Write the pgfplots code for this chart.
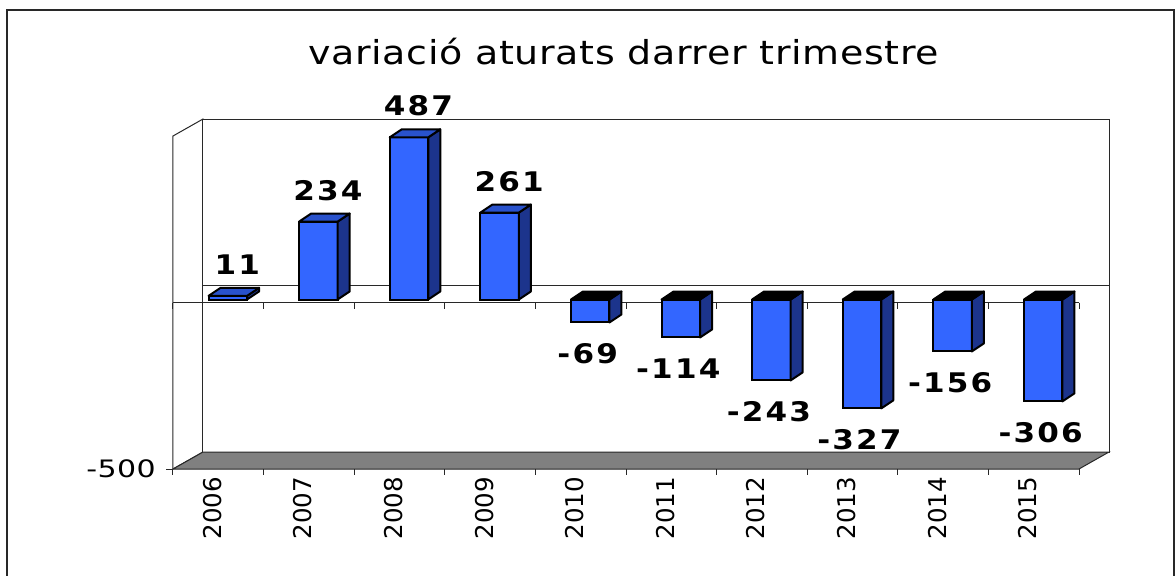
\documentclass[border=0pt]{standalone}
\usepackage{fontspec}
\setmainfont{DejaVu Sans}
\newfontfamily\titlefam[FakeStretch=1.15, LetterSpace=2]{DejaVu Sans}
\newfontfamily\labfam[FakeStretch=1.15, LetterSpace=8]{DejaVu Sans}
\newfontfamily\ticfam{DejaVu Sans}
\newfontfamily\yfam[FakeStretch=1.25, LetterSpace=2]{DejaVu Sans}
\usepackage{pgfplots}
\pgfplotsset{compat=1.18}
\usepackage{pgfplotstable}
\definecolor{frontcol}{RGB}{51,102,255}
\definecolor{sidecol}{RGB}{28,52,140}
\definecolor{topcol}{RGB}{41,82,204}
\definecolor{floorcol}{RGB}{128,128,128}
\definecolor{linecol}{RGB}{40,40,40}
\pgfdeclareplotmark{nothing}{}
\pgfplotstableread{
x y
0 11
1 234
2 487
3 261
4 -69
5 -114
6 -243
7 -327
8 -156
9 -306
}\data
\begin{document}
\begin{tikzpicture}
\useasboundingbox (-173bp,-107bp) rectangle (1003bp,469bp);
\draw[linecol, line width=2bp] (-166bp,459bp) rectangle (1001bp,-115bp);
\node[font={\titlefam\fontsize{33bp}{40bp}\selectfont}, anchor=base] at (450.5bp,404bp) {variació aturats darrer trimestre};
\begin{axis}[
  at={(0,0)}, anchor=south west,
  scale only axis, width=906bp, height=333bp,
  xmin=-0.5, xmax=9.5, ymin=-500, ymax=500,
  axis line style={draw=none},
  major tick length=0pt,
  tick pos=left,
  xtick={0,...,9},
  xticklabels={2006,2007,2008,2009,2010,2011,2012,2013,2014,2015},
  ytick={-500}, yticklabels={-500},
  clip=false,
  /pgf/number format/assume math mode=true,
  xticklabel style={font={\ticfam\fontsize{24.5bp}{28bp}\selectfont}, yshift=-8bp, xshift=-6bp, rotate=90, anchor=east, inner sep=0pt},
  yticklabel style={font={\yfam\fontsize{24bp}{28bp}\selectfont}, xshift=-17bp, anchor=east, inner sep=0pt},
]
% left side wall
\filldraw[fill=white, draw=linecol, line width=1bp] (rel axis cs:0,0) -- (rel axis cs:0,1) -- ([shift={(30bp,17bp)}]rel axis cs:0,1) -- ([shift={(30bp,17bp)}]rel axis cs:0,0) -- cycle;
% back wall
\filldraw[fill=white, draw=linecol, line width=1bp] ([shift={(30bp,17bp)}]rel axis cs:0,0) rectangle ([shift={(30bp,17bp)}]rel axis cs:1,1);
% floor
\filldraw[fill=floorcol, draw=linecol, line width=1bp] (rel axis cs:0,0) -- ([shift={(30bp,17bp)}]rel axis cs:0,0) -- ([shift={(30bp,17bp)}]rel axis cs:1,0) -- (rel axis cs:1,0) -- cycle;
% back zero line
\draw[linecol, line width=1bp] ([shift={(30bp,17bp)}]axis cs:-0.5,0) -- ([shift={(30bp,17bp)}]axis cs:9.5,0);
% front zero line
\draw[linecol, line width=1bp] (axis cs:-0.5,0) -- (axis cs:9.5,0);
\pgfplotsinvokeforeach{-0.5,0.5,1.5,2.5,3.5,4.5,5.5,6.5,7.5,8.5,9.5}{
  \draw[linecol, line width=1bp] (axis cs:#1,0) -- ++(0pt,-6bp);
  \draw[linecol, line width=1bp] (axis cs:#1,-500) -- ++(0pt,-6bp);
}
\draw[linecol, line width=1bp] (axis cs:-0.5,-500) -- ++(-7bp,0pt);
% bars: front faces
\addplot[ybar, bar width=0.425, bar shift=0.105, fill=frontcol, draw=black, line width=2bp, yshift=3bp,
  nodes near coords, point meta=y,
  visualization depends on={rawy \as \vy},
  every node near coord/.append style={font={\labfam\bfseries\fontsize{27bp}{31bp}\selectfont}, text=black, inner sep=0pt, outer ysep=21bp, xshift={\vy>0 ? 19bp : 7bp}},
] table[x=x, y=y] {\data};
% bars: side and top faces
\addplot[scatter, only marks, mark=nothing, yshift=3bp, point meta=y,
  visualization depends on={rawy \as \yval},
  scatter/@pre marker code/.code={%
    \pgfmathsetmacro\nyval{-(\yval)}%
    \filldraw[fill=sidecol, draw=black, line width=2bp, line join=round]
      (19.25bp,0pt) -- ++(axis direction cs:0,\nyval) -- ++(12bp,8bp) -- ++(axis direction cs:0,\yval) -- cycle;
    \ifdim\yval pt<0pt
      \filldraw[fill=black, draw=black, line width=2bp, line join=round]
        ([shift={(axis direction cs:0,\nyval)}]-19.25bp,0pt) -- ++(38.5bp,0pt) -- ++(12bp,8bp) -- ++(-38.5bp,0pt) -- cycle;
    \else
      \filldraw[fill=topcol, draw=black, line width=2bp, line join=round]
        (-19.25bp,0pt) -- ++(38.5bp,0pt) -- ++(12bp,8bp) -- ++(-38.5bp,0pt) -- cycle;
    \fi
  },
  scatter/@post marker code/.code={},
] table[x expr=\thisrow{x}+0.105, y=y] {\data};
\end{axis}
\end{tikzpicture}
\end{document}
